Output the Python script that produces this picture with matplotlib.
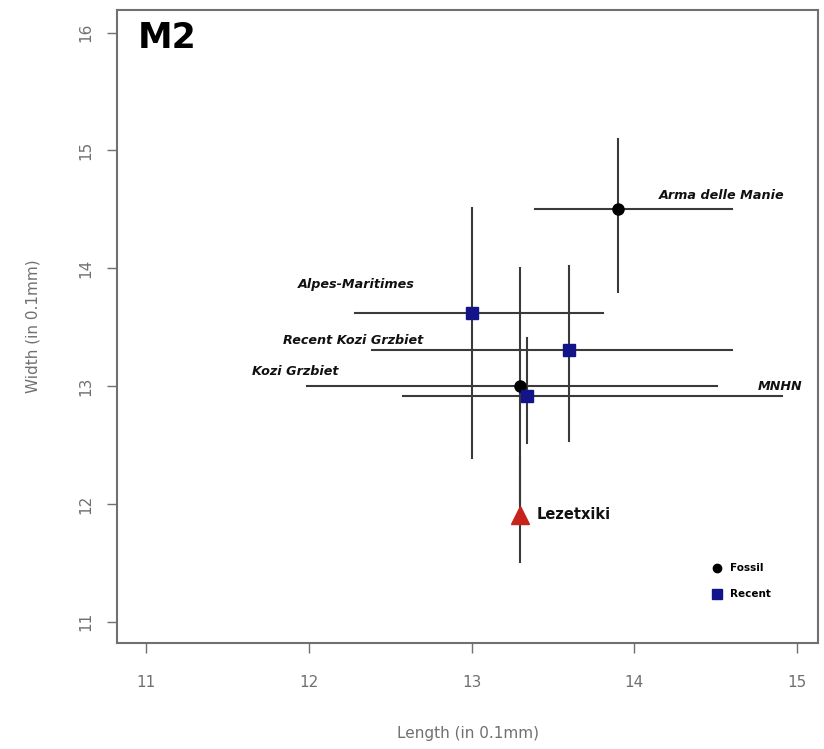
import numpy as np
import matplotlib
matplotlib.use('Agg')
import matplotlib.pyplot as plt

# sample means and ranges (in 0.1 mm)
names = ['Arma delle Manie', 'Alpes-Maritimes', 'Recent Kozi Grzbiet',
         'Kozi Grzbiet', 'MNHN', 'Lezetxiki']
group = ['Fossil', 'Recent', 'Recent', 'Fossil', 'Recent', 'Lezetxiki']
length = [13.9, 13.0, 13.6, 13.3, 13.34, 13.3]
width = [14.5, 13.62, 13.31, 13.0, 12.92, 11.91]
len_lo = [13.39, 12.28, 12.39, 11.99, 12.58, 13.3]
len_hi = [14.60, 13.81, 14.60, 14.51, 14.91, 13.3]
wid_lo = [13.80, 12.39, 12.53, 12.0, 12.52, 11.51]
wid_hi = [15.10, 14.51, 14.02, 14.0, 13.41, 12.4]

xticks = [11, 12, 13, 14, 15]
yticks = [11, 12, 13, 14, 15, 16]

grey = '#707070'
fig = plt.figure(figsize=(8.24, 7.49), dpi=100)
ax = fig.add_axes([0.142, 0.1415, 0.851, 0.845])

for i in range(len(names)):
    ax.plot([len_lo[i], len_hi[i]], [width[i], width[i]], color='#3a3a3a', lw=1.5, zorder=2)
    ax.plot([length[i], length[i]], [wid_lo[i], wid_hi[i]], color='#3a3a3a', lw=1.5, zorder=2)

style = {'Fossil': dict(marker='o', color='black', ms=8),
         'Recent': dict(marker='s', color='#14148a', ms=8),
         'Lezetxiki': dict(marker='^', color='#c8231b', ms=13)}
for i in range(len(names)):
    s = style[group[i]]
    ax.plot(length[i], width[i], linestyle='none', marker=s['marker'],
            color=s['color'], ms=s['ms'], zorder=3)

# label anchors
lab = {'Arma delle Manie': (14.15, 14.62, 'left'),
       'Alpes-Maritimes': (12.65, 13.86, 'right'),
       'Recent Kozi Grzbiet': (12.70, 13.39, 'right'),
       'Kozi Grzbiet': (12.18, 13.12, 'right'),
       'MNHN': (15.03, 13.0, 'right')}
for n, (x, y, ha) in lab.items():
    ax.text(x, y, n, ha=ha, va='center', fontsize=9.2, fontweight='bold',
            fontstyle='italic', color='#111111')
ax.text(13.40, 11.91, 'Lezetxiki', ha='left', va='center', fontsize=10.5,
        fontweight='bold', color='#111111')

ax.text(10.945, 15.95, 'M2', ha='left', va='center', fontsize=25, fontweight='bold')

# legend
ax.plot(14.51, 11.46, 'o', color='black', ms=6)
ax.text(14.585, 11.46, 'Fossil', ha='left', va='center', fontsize=7.5, fontweight='bold')
ax.plot(14.51, 11.24, 's', color='#14148a', ms=7)
ax.text(14.585, 11.24, 'Recent', ha='left', va='center', fontsize=7.5, fontweight='bold')

ax.set_xlim(10.82, 15.13)
ax.set_ylim(10.82, 16.19)
ax.set_xticks(xticks)
ax.set_yticks(yticks)
ax.set_yticklabels([str(t) for t in yticks], rotation=90, va='center')
ax.tick_params(colors=grey, labelsize=11, length=7, width=1)
ax.tick_params(axis='x', pad=16)
ax.tick_params(axis='y', pad=10)
for sp in ax.spines.values():
    sp.set_color(grey)
    sp.set_linewidth(1.5)
ax.set_xlabel('Length (in 0.1mm)', color=grey, fontsize=11, labelpad=26)
ax.set_ylabel('Width (in 0.1mm)', color=grey, fontsize=11, labelpad=27)

plt.savefig('out.png', dpi=100)
